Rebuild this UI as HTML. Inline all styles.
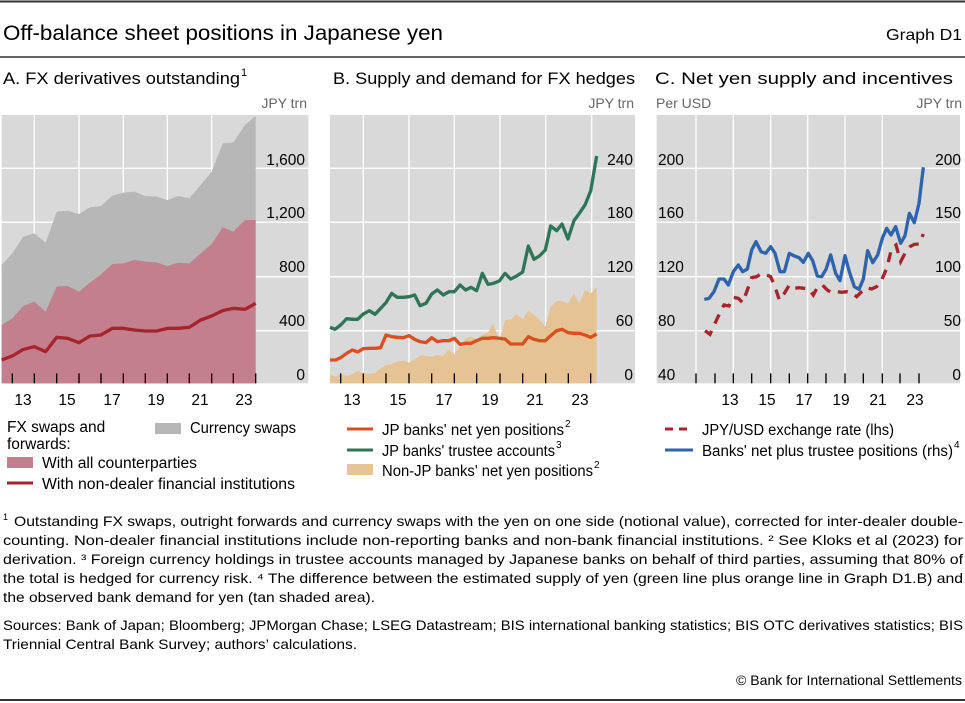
<!DOCTYPE html>
<html><head><meta charset="utf-8"><style>
html,body{margin:0;padding:0;background:#fff}
svg{display:block;font-family:"Liberation Sans",sans-serif}
</style></head><body>
<svg width="965" height="703" viewBox="0 0 965 703" xmlns="http://www.w3.org/2000/svg">
<line x1="0" y1="1.5" x2="965" y2="1.5" stroke="#333" stroke-width="2"/>
<text x="3" y="40" font-size="21" fill="#000" textLength="440" lengthAdjust="spacingAndGlyphs">Off-balance sheet positions in Japanese yen</text>
<text x="962" y="40" font-size="16" text-anchor="end" textLength="76" lengthAdjust="spacingAndGlyphs">Graph D1</text>
<line x1="0" y1="57" x2="965" y2="57" stroke="#333" stroke-width="1.5"/>
<text x="3" y="84" font-size="17" textLength="237" lengthAdjust="spacingAndGlyphs">A. FX derivatives outstanding</text><text x="241" y="76" font-size="11">1</text>
<text x="333" y="84" font-size="17" textLength="302" lengthAdjust="spacingAndGlyphs">B. Supply and demand for FX hedges</text>
<text x="655" y="84" font-size="17" textLength="298" lengthAdjust="spacingAndGlyphs">C. Net yen supply and incentives</text>

<!-- Panel A -->
<text x="307" y="108" font-size="14" fill="#666" text-anchor="end">JPY trn</text>
<g transform="translate(0,90) scale(0.33333)">
<rect x="5" y="75" width="920" height="805" fill="#d9d9d9"/>
<g stroke="#fff" stroke-width="4">
<line x1="5" y1="235" x2="925" y2="235"/><line x1="5" y1="397" x2="925" y2="397"/><line x1="5" y1="560" x2="925" y2="560"/><line x1="5" y1="722" x2="925" y2="722"/>
<line x1="103" y1="75" x2="103" y2="880"/><line x1="237" y1="75" x2="237" y2="880"/><line x1="370" y1="75" x2="370" y2="880"/><line x1="502" y1="75" x2="502" y2="880"/><line x1="635" y1="75" x2="635" y2="880"/>
</g>
<polygon fill="#b7b7b7" points="5,525 37,490 70,440 103,430 137,458 170,365 203,362 237,372 270,352 303,348 337,317 370,308 403,305 436,318 470,320 502,330 535,318 568,325 602,285 635,245 668,160 700,157 735,105 767,78 767,880 5,880"/>
<polygon fill="#c47f8e" points="5,705 37,685 70,648 103,635 137,665 170,590 203,588 237,605 270,578 303,553 337,522 370,520 403,510 436,515 470,517 502,528 535,518 568,520 602,490 635,462 668,412 700,425 735,390 767,390 767,880 5,880"/>
<polyline fill="none" stroke="#a8242c" stroke-width="10" stroke-linejoin="round" points="5,810 37,798 70,778 103,770 137,785 170,742 203,745 237,758 270,738 303,735 337,715 370,715 403,720 436,723 470,723 502,715 535,715 568,712 602,690 635,678 668,662 700,655 735,658 767,640"/>
<g stroke="#000" stroke-width="4">
<line x1="37" y1="850" x2="37" y2="880"/><line x1="103" y1="850" x2="103" y2="880"/><line x1="170" y1="850" x2="170" y2="880"/><line x1="237" y1="850" x2="237" y2="880"/><line x1="303" y1="850" x2="303" y2="880"/><line x1="370" y1="850" x2="370" y2="880"/><line x1="436" y1="850" x2="436" y2="880"/><line x1="502" y1="850" x2="502" y2="880"/><line x1="568" y1="850" x2="568" y2="880"/><line x1="635" y1="850" x2="635" y2="880"/><line x1="700" y1="850" x2="700" y2="880"/><line x1="767" y1="850" x2="767" y2="880"/>
</g>
</g>
<g font-size="15.5" text-anchor="end">
<text x="305" y="165">1,600</text><text x="305" y="218">1,200</text><text x="305" y="272">800</text><text x="305" y="326">400</text><text x="305" y="380">0</text>
</g>
<g font-size="15.5" text-anchor="middle">
<text x="23" y="405">13</text><text x="67" y="405">15</text><text x="112" y="405">17</text><text x="156" y="405">19</text><text x="200" y="405">21</text><text x="244" y="405">23</text>
</g>

<!-- Panel B -->
<text x="634" y="108" font-size="14" fill="#666" text-anchor="end">JPY trn</text>
<g transform="translate(320,90) scale(0.33333)">
<rect x="30" y="75" width="915" height="805" fill="#d9d9d9"/>
<g stroke="#fff" stroke-width="4">
<line x1="30" y1="235" x2="945" y2="235"/><line x1="30" y1="397" x2="945" y2="397"/><line x1="30" y1="560" x2="945" y2="560"/><line x1="30" y1="722" x2="945" y2="722"/>
<line x1="130" y1="75" x2="130" y2="880"/><line x1="267" y1="75" x2="267" y2="880"/><line x1="403" y1="75" x2="403" y2="880"/><line x1="540" y1="75" x2="540" y2="880"/><line x1="677" y1="75" x2="677" y2="880"/><line x1="815" y1="75" x2="815" y2="880"/>
</g>
<polygon fill="#e6c394" points="30,855 47,860 62,852 80,858 97,852 113,843 130,850 148,852 165,848 182,835 198,825 215,822 232,815 250,812 267,818 284,808 300,797 318,798 335,800 352,795 370,798 387,778 403,793 420,768 437,745 453,740 470,748 487,735 504,728 520,700 538,755 555,690 572,688 590,673 608,688 625,662 642,675 658,688 676,710 692,650 710,633 726,633 744,640 762,612 778,640 795,600 812,610 830,592 830,880 30,880"/>
<polyline fill="none" stroke="#d9501e" stroke-width="10" stroke-linejoin="round" points="30,810 47,810 62,803 80,790 97,780 113,786 130,776 148,775 165,775 182,773 198,735 215,740 232,742 250,743 267,737 284,748 300,755 318,758 335,743 352,755 370,752 387,752 403,745 420,763 437,760 453,760 470,752 487,745 504,745 520,743 538,745 555,747 572,762 590,762 608,762 625,740 642,748 658,752 676,752 692,737 710,722 726,718 744,728 762,730 778,730 795,735 812,742 830,732"/>
<polyline fill="none" stroke="#2e7559" stroke-width="10" stroke-linejoin="round" points="30,712 45,718 62,705 80,686 97,688 113,688 130,672 148,662 165,673 182,655 198,638 215,610 232,622 250,622 267,620 284,615 300,647 318,640 335,612 352,600 370,615 387,605 403,605 420,585 437,600 453,592 470,602 487,550 504,583 520,580 538,573 555,550 572,567 590,558 608,546 625,468 642,508 658,498 676,480 692,408 710,422 726,402 744,447 762,392 778,370 795,345 812,303 830,198"/>
<g stroke="#000" stroke-width="4">
<line x1="62" y1="850" x2="62" y2="880"/><line x1="130" y1="850" x2="130" y2="880"/><line x1="198" y1="850" x2="198" y2="880"/><line x1="267" y1="850" x2="267" y2="880"/><line x1="335" y1="850" x2="335" y2="880"/><line x1="403" y1="850" x2="403" y2="880"/><line x1="470" y1="850" x2="470" y2="880"/><line x1="540" y1="850" x2="540" y2="880"/><line x1="608" y1="850" x2="608" y2="880"/><line x1="677" y1="850" x2="677" y2="880"/><line x1="745" y1="850" x2="745" y2="880"/><line x1="812" y1="850" x2="812" y2="880"/>
</g>
</g>
<g font-size="15.5" text-anchor="end">
<text x="633" y="165">240</text><text x="633" y="218">180</text><text x="633" y="272">120</text><text x="633" y="326">60</text><text x="633" y="380">0</text>
</g>
<g font-size="15.5" text-anchor="middle">
<text x="352" y="405">13</text><text x="398" y="405">15</text><text x="444" y="405">17</text><text x="490" y="405">19</text><text x="535" y="405">21</text><text x="580" y="405">23</text>
</g>

<!-- Panel C -->
<text x="656" y="108" font-size="14" fill="#666">Per USD</text>
<text x="962" y="108" font-size="14" fill="#666" text-anchor="end">JPY trn</text>
<g transform="translate(645,90) scale(0.33333)">
<rect x="35" y="75" width="910" height="805" fill="#d9d9d9"/>
<g stroke="#fff" stroke-width="4">
<line x1="35" y1="235" x2="945" y2="235"/><line x1="35" y1="397" x2="945" y2="397"/><line x1="35" y1="560" x2="945" y2="560"/><line x1="35" y1="722" x2="945" y2="722"/>
<line x1="153" y1="75" x2="153" y2="880"/><line x1="265" y1="75" x2="265" y2="880"/><line x1="377" y1="75" x2="377" y2="880"/><line x1="488" y1="75" x2="488" y2="880"/><line x1="600" y1="75" x2="600" y2="880"/><line x1="712" y1="75" x2="712" y2="880"/>
</g>
<polyline fill="none" stroke="#a8242c" stroke-width="10" stroke-dasharray="30,24" points="180,722 195,733 210,700 225,668 237,645 252,648 265,622 280,625 293,638 307,600 320,563 335,560 350,550 365,555 377,560 390,590 403,630 418,610 433,585 448,595 462,593 477,595 492,597 505,615 518,590 532,585 547,600 560,608 575,605 590,607 605,605 620,608 635,620 650,605 665,593 680,597 695,590 710,570 725,535 740,475 753,465 767,515 780,490 795,470 808,463 822,462 835,432"/>
<polyline fill="none" stroke="#2e64ad" stroke-width="10" stroke-linejoin="round" points="178,628 192,625 207,605 222,567 237,567 250,585 265,545 280,525 293,545 307,537 320,480 333,455 348,485 362,490 377,470 390,490 405,545 418,545 433,490 448,498 462,503 475,517 490,490 503,512 517,558 530,560 543,538 557,495 572,550 585,572 600,497 613,545 628,590 642,598 655,567 668,482 683,518 698,495 712,445 725,415 738,435 752,410 767,460 780,437 793,370 808,398 822,340 835,232"/>
<g stroke="#000" stroke-width="4">
<line x1="153" y1="850" x2="153" y2="880"/><line x1="210" y1="850" x2="210" y2="880"/><line x1="265" y1="850" x2="265" y2="880"/><line x1="320" y1="850" x2="320" y2="880"/><line x1="377" y1="850" x2="377" y2="880"/><line x1="433" y1="850" x2="433" y2="880"/><line x1="488" y1="850" x2="488" y2="880"/><line x1="543" y1="850" x2="543" y2="880"/><line x1="600" y1="850" x2="600" y2="880"/><line x1="655" y1="850" x2="655" y2="880"/><line x1="712" y1="850" x2="712" y2="880"/><line x1="765" y1="850" x2="765" y2="880"/><line x1="822" y1="850" x2="822" y2="880"/>
</g>
</g>
<g font-size="15.5">
<text x="658" y="165">200</text><text x="658" y="218">160</text><text x="658" y="272">120</text><text x="658" y="326">80</text><text x="658" y="380">40</text>
</g>
<g font-size="15.5" text-anchor="end">
<text x="961" y="165">200</text><text x="961" y="218">150</text><text x="961" y="272">100</text><text x="961" y="326">50</text><text x="961" y="380">0</text>
</g>
<g font-size="15.5" text-anchor="middle">
<text x="730" y="405">13</text><text x="767" y="405">15</text><text x="804" y="405">17</text><text x="841" y="405">19</text><text x="878" y="405">21</text><text x="915" y="405">23</text>
</g>

<!-- Legends -->
<g font-size="15.5">
<text x="7" y="432">FX swaps and</text>
<text x="7" y="449">forwards:</text>
<rect x="155" y="423" width="26" height="11" fill="#b7b7b7"/>
<text x="190" y="433" textLength="106" lengthAdjust="spacingAndGlyphs">Currency swaps</text>
<rect x="7" y="457" width="26" height="11" fill="#c47f8e"/>
<text x="42" y="468" textLength="155" lengthAdjust="spacingAndGlyphs">With all counterparties</text>
<line x1="7" y1="483" x2="33" y2="483" stroke="#a8242c" stroke-width="3"/>
<text x="42" y="489" textLength="253" lengthAdjust="spacingAndGlyphs">With non-dealer financial institutions</text>

<line x1="347" y1="429" x2="373" y2="429" stroke="#d9501e" stroke-width="3"/>
<text x="382" y="435" textLength="182" lengthAdjust="spacingAndGlyphs">JP banks' net yen positions</text><text x="565" y="427" font-size="10">2</text>
<line x1="347" y1="450" x2="373" y2="450" stroke="#2e7559" stroke-width="3"/>
<text x="382" y="456" textLength="173" lengthAdjust="spacingAndGlyphs">JP banks' trustee accounts</text><text x="556" y="448" font-size="10">3</text>
<rect x="347" y="464" width="26" height="11" fill="#e6c394"/>
<text x="382" y="476" textLength="211" lengthAdjust="spacingAndGlyphs">Non-JP banks' net yen positions</text><text x="594" y="468" font-size="10">2</text>

<line x1="665" y1="429" x2="693" y2="429" stroke="#a8242c" stroke-width="3" stroke-dasharray="8,6"/>
<text x="702" y="435" textLength="192" lengthAdjust="spacingAndGlyphs">JPY/USD exchange rate (lhs)</text>
<line x1="665" y1="450" x2="693" y2="450" stroke="#2e64ad" stroke-width="3"/>
<text x="702" y="456" textLength="251" lengthAdjust="spacingAndGlyphs">Banks' net plus trustee positions (rhs)</text><text x="954" y="448" font-size="10">4</text>
</g>

<!-- Footnotes -->
<g font-size="14">
<text x="3" y="520" font-size="9">1</text>
<text x="14" y="526" textLength="949" lengthAdjust="spacingAndGlyphs">Outstanding FX swaps, outright forwards and currency swaps with the yen on one side (notional value), corrected for inter-dealer double-</text>
<text x="3" y="545" textLength="960" lengthAdjust="spacingAndGlyphs">counting. Non-dealer financial institutions include non-reporting banks and non-bank financial institutions.    ² See Kloks et al (2023) for</text>
<text x="3" y="564" textLength="960" lengthAdjust="spacingAndGlyphs">derivation.    ³ Foreign currency holdings in trustee accounts managed by Japanese banks on behalf of third parties, assuming that 80% of</text>
<text x="3" y="583" textLength="960" lengthAdjust="spacingAndGlyphs">the total is hedged for currency risk.    ⁴ The difference between the estimated supply of yen (green line plus orange line in Graph D1.B) and</text>
<text x="3" y="602" textLength="372" lengthAdjust="spacingAndGlyphs">the observed bank demand for yen (tan shaded area).</text>
<text x="3" y="630" textLength="960" lengthAdjust="spacingAndGlyphs">Sources: Bank of Japan; Bloomberg; JPMorgan Chase; LSEG Datastream; BIS international banking statistics; BIS OTC derivatives statistics; BIS</text>
<text x="3" y="649" textLength="354" lengthAdjust="spacingAndGlyphs">Triennial Central Bank Survey; authors’ calculations.</text>
<text x="962" y="685" text-anchor="end" textLength="226" lengthAdjust="spacingAndGlyphs">© Bank for International Settlements</text>
</g>
<line x1="0" y1="700" x2="965" y2="700" stroke="#333" stroke-width="2"/>
</svg>
</body></html>
